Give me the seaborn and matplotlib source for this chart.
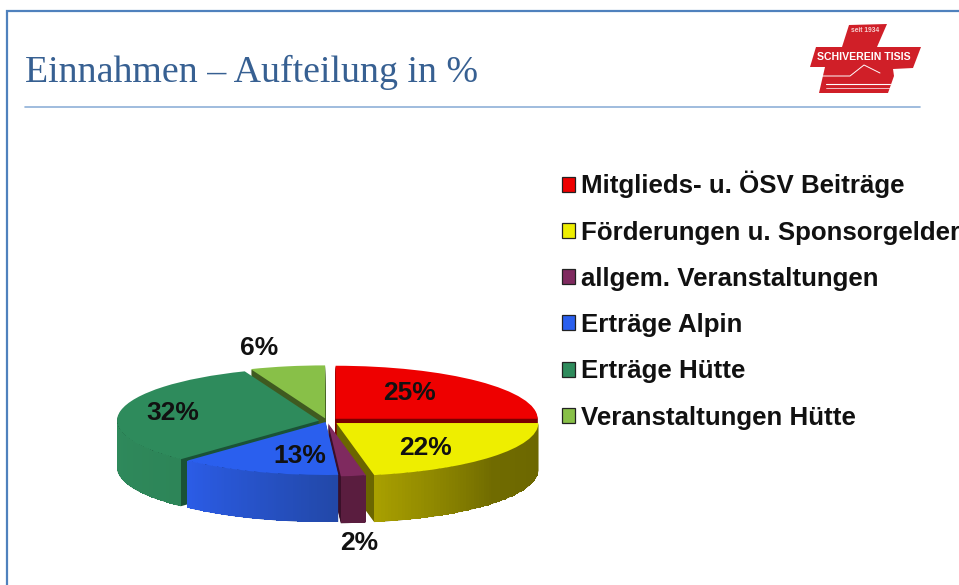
import numpy as np
import matplotlib
matplotlib.use("Agg")
import matplotlib.pyplot as plt
from matplotlib.patches import Patch, Polygon
from matplotlib.colors import LinearSegmentedColormap
import seaborn as sns

sns.set_theme(style="white")
plt.rcParams['font.family'] = ['Liberation Sans', 'DejaVu Sans']

# ---------- data ----------
categories = ["Mitglieds- u. ÖSV Beiträge", "Förderungen u. Sponsorgelder",
              "allgem. Veranstaltungen", "Erträge Alpin", "Erträge Hütte",
              "Veranstaltungen Hütte"]
shares = [25, 22, 2, 13, 32, 6]
pct_labels = ["25%", "22%", "2%", "13%", "32%", "6%"]
top_hex = ["#ee0000", "#eeee00", "#7f2a5f", "#2a5fee", "#2e8b5c", "#88c048"]
cut_hex = ["#7a0000", "#6b6600", "#3a1029", "#1a3a8a", "#1a5236", "#3f5a20"]
side_hex = [["#7a0000", "#7a0000"], ["#a89f00", "#706b00", "#6b6600"],
            ["#5a1d3f", "#5a1d3f"], ["#2b5ce6", "#2248a8"],
            ["#2f8a5c", "#2d8558"], ["#3f5a20", "#3f5a20"]]
draw_rank = [0, 3, 4, 5, 2, 1]           # back-to-front order of the slices
label_px = [(410, 393), (426, 448), (359, 543), (300, 456), (173, 413), (259, 348)]

W, H = 959, 585
CX, CY, RX, RY, DEPTH = 327, 421, 202, 53, 47

fig = plt.figure(figsize=(W / 100, H / 100), dpi=100, facecolor="white")
palette = sns.color_palette(top_hex)
cuts = sns.color_palette(cut_hex)

# ---------- pie ----------
ax = fig.add_axes([0, 0, 1, 1], facecolor="none")
explode = [0.06, 0.06, 0.045, 0.02, 0.04, 0.05]
pie_kw = dict(explode=explode, startangle=90, counterclock=False, normalize=True,
              wedgeprops={"linewidth": 0, "edgecolor": "none"})

for d in range(DEPTH, 0, -1):
    w_layer, _ = ax.pie(shares, colors=cuts, center=(0, -d / RY), **pie_kw)
    for w, r in zip(w_layer, draw_rank):
        w.set_zorder(2 + 2 * r)

tops, _ = ax.pie(shares, colors=palette, center=(0, 0), **pie_kw)
for w in tops:
    w.set_zorder(30)

for w, r, stops in zip(tops, draw_rank, side_hex):
    a0, a1 = max(w.theta1, -180), min(w.theta2, 0)
    if a1 <= a0:
        continue
    t = np.radians(np.linspace(a0, a1, 80))
    x = w.center[0] + w.r * np.cos(t)
    y = w.center[1] + w.r * np.sin(t)
    X = np.vstack([x, x])
    Y = np.vstack([y, y - DEPTH / RY])
    C = np.linspace(0, 1, 79)[None, :]
    cmap = LinearSegmentedColormap.from_list("side", stops)
    ax.pcolormesh(X, Y, C, cmap=cmap, shading="flat", zorder=3 + 2 * r, vmin=0, vmax=1)

ax.set_aspect("auto")
ax.set_xlim((0 - CX) / RX, (W - CX) / RX)
ax.set_ylim((CY - H) / RY, CY / RY)
ax.axis("off")

# ---------- slide furniture ----------
ov = fig.add_axes([0, 0, 1, 1], facecolor="none", zorder=5)
ov.set_xlim(0, W)
ov.set_ylim(H, 0)
ov.axis("off")
frame = "#4f81bd"
ov.plot([6.5, 6.5, W], [H, 10.5, 10.5], color=frame, lw=1.6, solid_joinstyle="miter")
ov.plot([25, 920], [107, 107], color="#8fb0d8", lw=1.2)
ov.text(25, 82, "Einnahmen – Aufteilung in %", family="Liberation Serif",
        fontsize=27.3, color="#376092", ha="left", va="baseline")

for s, (px, py) in zip(pct_labels, label_px):
    ov.text(px, py, s, fontsize=19, fontweight="bold", color="#111111",
            ha="center", va="center")

# ---------- logo ----------
logo = [(849, 25), (887, 24), (877, 47), (921, 47), (913, 68), (893, 69),
        (894, 76), (888, 93), (819, 93), (825, 67), (810, 67), (816, 47), (842, 47)]
ov.add_patch(Polygon(logo, closed=True, facecolor="#d01f28", edgecolor="none"))
ov.text(864, 57, "SCHIVEREIN TISIS", color="white", fontsize=7.6, fontweight="bold",
        ha="center", va="center")
ov.text(865, 30, "seit 1934", color="#f6d0d0", fontsize=4.8, fontweight="bold",
        ha="center", va="center")
ov.plot([822, 850, 864, 880], [76, 76, 65, 73], color="white", lw=0.7)
ov.plot([826, 890], [84, 84], color="white", lw=0.8)
ov.plot([826, 890], [88, 88], color="white", lw=0.5)

# ---------- legend ----------
handles = [Patch(facecolor=c, edgecolor="#222222", linewidth=0.9) for c in palette]
ov.legend(handles, categories, loc="upper left", bbox_to_anchor=(562 / W, 1 - 171 / H),
          bbox_transform=fig.transFigure, frameon=False, ncols=1,
          prop={"family": "Liberation Sans", "weight": "bold", "size": 18.6},
          handlelength=0.52, handleheight=0.52, handletextpad=0.2,
          labelspacing=0.86, borderpad=0, borderaxespad=0, labelcolor="#111111")

fig.savefig("out.png", dpi=100, facecolor="white")
